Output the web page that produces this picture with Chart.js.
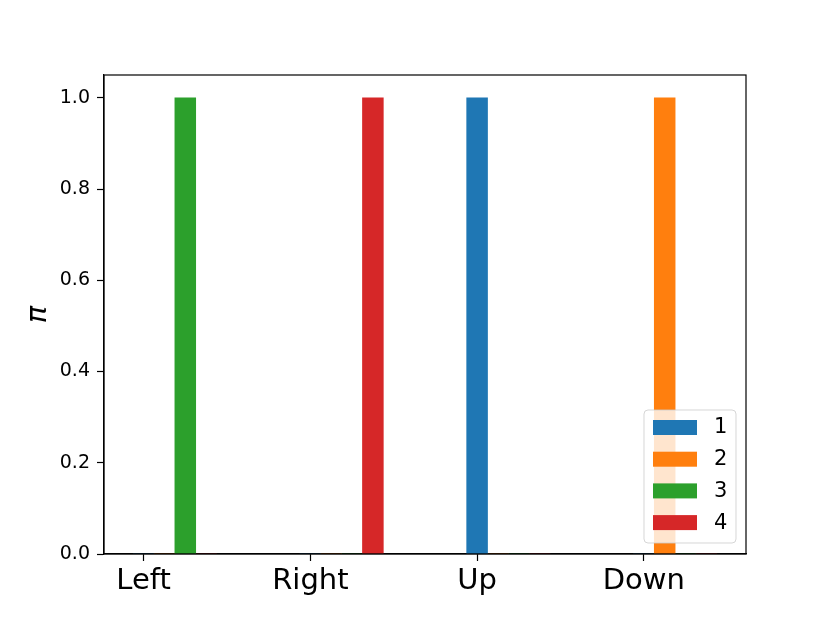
<!DOCTYPE html>
<html>
<head>
<meta charset="utf-8">
<script src="https://cdn.jsdelivr.net/npm/chart.js@4/dist/chart.umd.min.js"></script>
<style>
  html, body { margin: 0; padding: 0; background: #ffffff; }
  #wrap { width: 830px; height: 623px; }
</style>
</head>
<body>
<div id="wrap"><canvas id="c" width="830" height="623"></canvas></div>
<script>
// ---- data ----
const categories = ['Left', 'Right', 'Up', 'Down'];
const seriesLabels = ['1', '2', '3', '4'];
const series1 = [0, 0, 1, 0];
const series2 = [0, 0, 0, 1];
const series3 = [1, 0, 0, 0];
const series4 = [0, 1, 0, 0];
const yTicks = [0.0, 0.2, 0.4, 0.6, 0.8, 1.0];

// ---- style ----
const colors = ['#1f77b4', '#ff7f0e', '#2ca02c', '#d62728'];
const barStep = 0.125;            // offset between series within a category (matplotlib x + k*w)
const allSeries = [series1, series2, series3, series4];
const FONT = "'DejaVu Sans', 'Liberation Sans', sans-serif";

// axis range like matplotlib's 5% margins around the bars
const dataMin = -barStep / 2;
const dataMax = (categories.length - 1) + (allSeries.length - 1) * barStep + barStep / 2;
const span = dataMax - dataMin;
const xMin = dataMin - 0.05 * span;
const xMax = dataMax + 0.05 * span;

const datasets = allSeries.map((vals, k) => ({
  label: seriesLabels[k],
  data: vals.map((v, i) => ({ x: i + k * barStep, y: v })),
  backgroundColor: colors[k],
  borderWidth: 0,
  barPercentage: 1.0,
  categoryPercentage: 1.0,
  grouped: false
}));

const frameAndLegend = {
  id: 'frameAndLegend',
  afterDraw(chart) {
    const ctx = chart.ctx;
    const a = chart.chartArea;
    ctx.save();
    // spines
    ctx.strokeStyle = '#000000';
    ctx.lineWidth = 1.2;
    ctx.strokeRect(a.left, a.top, a.right - a.left, a.bottom - a.top);

    // legend (lower right, inside axes)
    const w = 92, h = 133;
    const bx = a.right - 10 - w;
    const by = a.bottom - 11 - h;
    const r = 4;
    ctx.beginPath();
    ctx.moveTo(bx + r, by);
    ctx.lineTo(bx + w - r, by);
    ctx.quadraticCurveTo(bx + w, by, bx + w, by + r);
    ctx.lineTo(bx + w, by + h - r);
    ctx.quadraticCurveTo(bx + w, by + h, bx + w - r, by + h);
    ctx.lineTo(bx + r, by + h);
    ctx.quadraticCurveTo(bx, by + h, bx, by + h - r);
    ctx.lineTo(bx, by + r);
    ctx.quadraticCurveTo(bx, by, bx + r, by);
    ctx.closePath();
    ctx.fillStyle = 'rgba(255,255,255,0.8)';
    ctx.fill();
    ctx.strokeStyle = 'rgba(204,204,204,0.8)';
    ctx.lineWidth = 1;
    ctx.stroke();

    ctx.font = '21px ' + FONT;
    ctx.textBaseline = 'middle';
    ctx.textAlign = 'left';
    chart.data.datasets.forEach((ds, i) => {
      const hy = by + 10 + i * 31.7;
      ctx.fillStyle = ds.backgroundColor;
      ctx.fillRect(bx + 9, hy, 44, 15);
      ctx.fillStyle = '#000000';
      ctx.fillText(ds.label, bx + 70, hy + 8);
    });
    ctx.restore();
  }
};

new Chart(document.getElementById('c'), {
  type: 'bar',
  data: { datasets },
  options: {
    responsive: false,
    animation: false,
    layout: { padding: { left: 0, top: 75, right: 84, bottom: 0 } },
    plugins: {
      legend: { display: false },
      tooltip: { enabled: false }
    },
    scales: {
      x: {
        type: 'linear',
        min: xMin,
        max: xMax,
        offset: false,
        afterBuildTicks: (s) => { s.ticks = categories.map((c, i) => ({ value: i })); },
        afterFit: (s) => { s.height = 69; },
        ticks: {
          autoSkip: false,
          maxRotation: 0,
          minRotation: 0,
          padding: 3,
          color: '#000000',
          font: { family: FONT, size: 29 },
          callback: (v) => categories[v]
        },
        grid: {
          offset: false,
          drawOnChartArea: false,
          drawTicks: true,
          tickLength: 7,
          tickWidth: 1.2,
          tickColor: '#000000',
          color: '#000000'
        },
        border: { display: true, color: '#000000', width: 1.2 }
      },
      y: {
        type: 'linear',
        min: 0,
        max: 1.05,
        afterBuildTicks: (s) => { s.ticks = yTicks.map(v => ({ value: v })); },
        afterFit: (s) => { s.width = 104; },
        ticks: {
          padding: 7,
          color: '#000000',
          font: { family: FONT, size: 19 },
          callback: (v) => Number(v).toFixed(1)
        },
        grid: {
          drawOnChartArea: false,
          drawTicks: true,
          tickLength: 7,
          tickWidth: 1.2,
          tickColor: '#000000',
          color: '#000000'
        },
        border: { display: true, color: '#000000', width: 1.2 },
        title: {
          display: true,
          text: 'π',
          color: '#000000',
          font: { family: FONT, size: 29, style: 'italic', lineHeight: 1 },
          padding: { top: 24, bottom: 0 }
        }
      }
    }
  },
  plugins: [frameAndLegend]
});
</script>
</body>
</html>
